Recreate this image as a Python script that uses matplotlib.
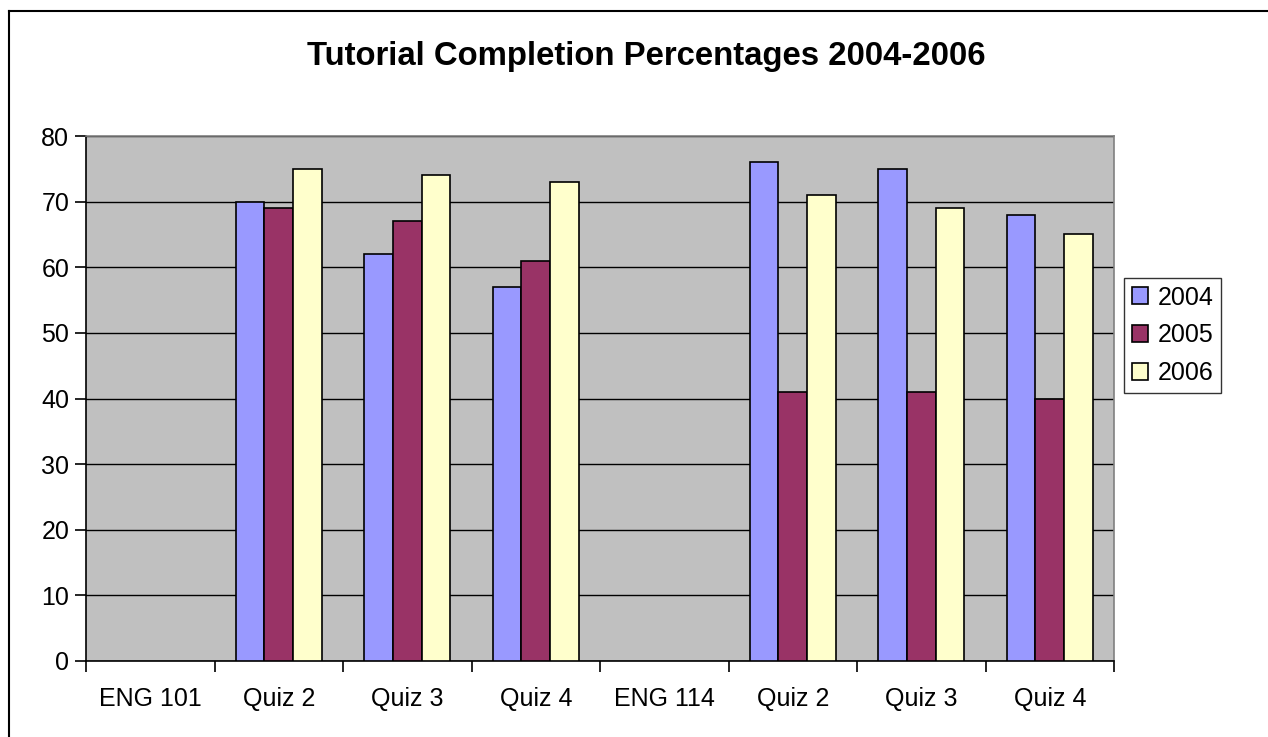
import matplotlib
matplotlib.use("Agg")
import matplotlib.pyplot as plt
import numpy as np
from matplotlib.lines import Line2D

categories = ["ENG 101", "Quiz 2", "Quiz 3", "Quiz 4", "ENG 114", "Quiz 2", "Quiz 3", "Quiz 4"]
series_names = ["2004", "2005", "2006"]
v2004 = [0, 70, 62, 57, 0, 76, 75, 68]
v2005 = [0, 69, 67, 61, 0, 41, 41, 40]
v2006 = [0, 75, 74, 73, 0, 71, 69, 65]
colors = ["#9999FF", "#993366", "#FFFFCC"]
yticks = [0, 10, 20, 30, 40, 50, 60, 70, 80]

plt.rcParams['font.family'] = ['Liberation Sans', 'DejaVu Sans']

W, H = 1268, 737
fig = plt.figure(figsize=(W / 100, H / 100), dpi=100)
ax = fig.add_axes([86 / W, (H - 661) / H, 1028 / W, 525 / H])
ax.set_facecolor("#C0C0C0")

x = np.arange(len(categories))
bw = 1 / 4.5
series = [v2004, v2005, v2006]
handles = []
for i, (vals, c, name) in enumerate(zip(series, colors, series_names)):
    masked = [v if v > 0 else np.nan for v in vals]
    b = ax.bar(x + (i - 1) * bw, masked, width=bw, color=c, edgecolor="black",
               linewidth=1.2, label=name, zorder=3)
    handles.append(b)

ax.set_xlim(-0.5, len(categories) - 0.5)
ax.set_ylim(0, 80)
ax.set_yticks(yticks)
ax.set_yticklabels([str(t) for t in yticks], fontsize=18)
ax.yaxis.grid(True, color="#000000", linewidth=1, zorder=1)
ax.set_axisbelow(True)

ax.set_xticks(np.arange(-0.5, len(categories), 1.0))
ax.set_xticklabels([])
ax.set_xticks(x, minor=True)
ax.set_xticklabels(categories, minor=True, fontsize=18)
ax.tick_params(axis='x', which='minor', length=0, pad=19)
ax.tick_params(axis='x', which='major', length=8, width=1.2, direction='out')
ax.tick_params(axis='y', length=8, width=1.2, direction='out', pad=4)

for s in ["left", "bottom"]:
    ax.spines[s].set_color("black")
    ax.spines[s].set_linewidth(1.2)
for s in ["top", "right"]:
    ax.spines[s].set_color("#808080")
    ax.spines[s].set_linewidth(1.2)

fig.text(0.5 * (308 + 985) / W, 1 - 56 / H, "Tutorial Completion Percentages 2004-2006",
         ha="center", va="center", fontsize=23.7, fontweight="bold")

leg = fig.legend(handles=handles, labels=series_names, loc="upper left",
                 bbox_to_anchor=(1124 / W, 1 - 278 / H), fontsize=18,
                 frameon=True, fancybox=False, edgecolor="black",
                 handlelength=0.65, handleheight=0.65, handletextpad=0.4,
                 borderpad=0.3, labelspacing=0.55, borderaxespad=0)
leg.get_frame().set_linewidth(1.0)

# outer chart border
fig.add_artist(Line2D([9 / W, 9 / W], [0, 1 - 11 / H], color="black", linewidth=1.5))
fig.add_artist(Line2D([9 / W, 1], [1 - 11 / H, 1 - 11 / H], color="black", linewidth=1.5))

fig.savefig("out.png", dpi=100, facecolor="white")
